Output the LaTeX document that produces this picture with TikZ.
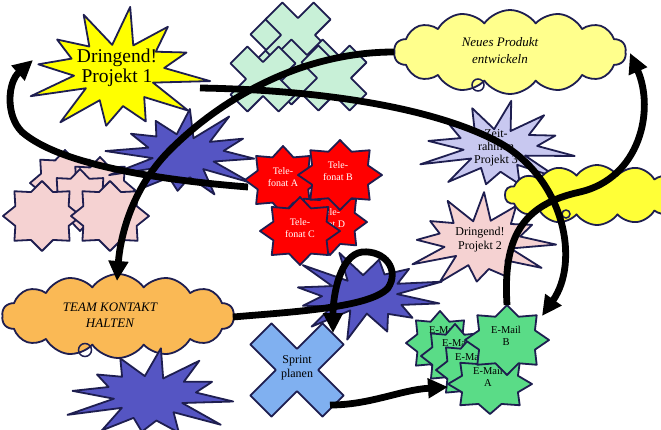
\documentclass[tikz,border=0pt]{standalone}
\usepackage{fontspec}
\setmainfont{Liberation Serif}
\usetikzlibrary{shapes.geometric,shapes.symbols,arrows.meta}
\definecolor{edge}{RGB}{30,30,80}
\definecolor{yel}{RGB}{255,255,0}
\definecolor{mint}{RGB}{200,240,215}
\definecolor{bluev}{RGB}{85,85,195}
\definecolor{pinkl}{RGB}{245,210,210}
\definecolor{redc}{RGB}{255,0,0}
\definecolor{lyel}{RGB}{255,255,140}
\definecolor{lav}{RGB}{200,200,240}
\definecolor{byel}{RGB}{255,255,55}
\definecolor{orng}{RGB}{250,185,85}
\definecolor{sky}{RGB}{128,176,240}
\definecolor{grn}{RGB}{90,220,135}
% burst: style, cx, cy, rx, ry, points, inner ratio, rotation, jitter
\newcommand\burst[9]{%
  \pgfmathtruncatemacro\bnn{2*#6-1}%
  \draw[#1] plot[variable=\t, samples at={0,...,\bnn}]
   ({#2+ifthenelse(mod(\t,2)==0,1,#7)*(1+#9*sin(\t*137.5+#2))*#4*cos(#8+\t*180/#6)},
    {#3+ifthenelse(mod(\t,2)==0,1,#7)*(1+#9*sin(\t*137.5+#2))*#5*sin(#8+\t*180/#6)}) -- cycle;%
}
% cross: style, cx, cy, L, a, rotation
\newcommand\xcross[6]{%
  \draw[#1, shift={(#2,#3)}, rotate=#6] (#5,#4) -- (#5,#5) -- (#4,#5) -- (#4,-#5) -- (#5,-#5) -- (#5,-#4) -- (-#5,-#4) -- (-#5,-#5) -- (-#4,-#5) -- (-#4,#5) -- (-#5,#5) -- (-#5,#4) -- cycle;%
}
\tikzset{
  shp/.style={draw=edge, line width=1.8pt, line join=round},
  arr/.style={line width=6.8pt, draw=black, -{Triangle[length=20pt,width=19pt]}},
  lbl/.style={align=center, inner sep=0pt, text=black},
  wlbl/.style={align=center, inner sep=0pt, text=white, font=\fontsize{10}{11.5}\selectfont},
  glbl/.style={align=center, inner sep=0pt, text=black, font=\fontsize{10.5}{12}\selectfont},
  cloudbox/.style={shp, cloud, cloud puffs=14, cloud puff arc=110, inner sep=0pt},
  doodle/.style={draw=edge, line width=1.5pt},
}
\begin{document}
\begin{tikzpicture}[x=1pt,y=-1pt]
\useasboundingbox (0,0) rectangle (661,429);
\fill[white] (0,0) rectangle (661,429);

% mint crosses
\xcross{shp, fill=mint}{283}{50}{34}{12}{45}
\xcross{shp, fill=mint}{298}{35}{34}{12}{45}
\xcross{shp, fill=mint}{307}{72}{34}{12}{45}
\xcross{shp, fill=mint}{263}{79}{34}{12}{45}
\xcross{shp, fill=mint}{334}{78}{34}{12}{45}

% Dringend Projekt 1
\burst{shp, fill=yel}{117}{72}{85}{59}{12}{0.52}{8}{0.12}
\node[lbl, font=\fontsize{19.5}{20}\selectfont] (p1) at (117,68) {Dringend!\\Projekt 1};

% pink cluster
\burst{shp, fill=pinkl}{65}{183}{35}{33}{8}{0.74}{0}{0}
\burst{shp, fill=pinkl}{100}{190}{35}{33}{8}{0.74}{0}{0}
\burst{shp, fill=pinkl}{80}{200}{33}{31}{8}{0.74}{0}{0}
\burst{shp, fill=pinkl}{42}{216}{39}{35}{8}{0.74}{0}{0}
\burst{shp, fill=pinkl}{110}{216}{39}{35}{8}{0.74}{0}{0}

% blue top star
\burst{shp, fill=bluev}{183}{155}{72}{42}{12}{0.5}{5}{0.15}

% red telefonat stars
\burst{shp, fill=redc}{283}{180}{38}{34}{8}{0.72}{0}{0}
\node[wlbl] (tA) at (283,177) {Tele-\\fonat A};
\burst{shp, fill=redc}{330}{222}{37}{33}{8}{0.72}{0}{0}
\node[wlbl] (tD) at (330,218) {Tele-\\fonat D};
\burst{shp, fill=redc}{340}{175}{42}{35}{8}{0.72}{0}{0}
\node[wlbl] (tB) at (338,171) {Tele-\\fonat B};
\burst{shp, fill=redc}{300}{231}{40}{34}{8}{0.72}{0}{0}
\node[wlbl] (tC) at (300,228) {Tele-\\fonat C};

% Neues Produkt cloud
\node[cloudbox, fill=lyel, aspect=2.75, minimum width=232pt, minimum height=84pt] (np) at (510,52) {};
\node[lbl, font=\itshape\fontsize{13}{17}\selectfont] (npt) at (500,51) {Neues Produkt\\entwickeln};
\draw[doodle] (478,85) circle[radius=6pt];

% Zeitrahmen Projekt 3
\burst{shp, fill=lav}{497}{148}{72}{42}{12}{0.5}{10}{0.14}
\node[lbl, font=\fontsize{12}{13}\selectfont] (p3) at (496,148) {Zeit-\\rahmen\\Projekt 3};

% Dringend Projekt 2
\burst{shp, fill=pinkl}{480}{242}{68}{44}{12}{0.55}{3}{0.14}
\node[lbl, font=\fontsize{12}{14}\selectfont] (p2) at (480,240) {Dringend!\\Projekt 2};

% bright yellow cloud
\node[cloudbox, fill=byel, aspect=3.0, minimum width=184pt, minimum height=60pt] (yc) at (597,195) {};
\draw[doodle] (566,214) circle[radius=4pt];

% blue middle star
\burst{shp, fill=bluev}{365}{295}{75}{40}{12}{0.5}{12}{0.15}

% TEAM KONTAKT cloud
\node[cloudbox, fill=orng, aspect=2.75, minimum width=232pt, minimum height=84pt] (team) at (118,316) {};
\node[lbl, font=\itshape\fontsize{13}{16}\selectfont] (teamt) at (110,315) {TEAM KONTAKT\\HALTEN};
\draw[doodle] (85,350) circle[radius=6.5pt];

% blue bottom star
\burst{shp, fill=bluev}{150}{396}{78}{42}{12}{0.52}{7}{0.15}

% Sprint planen cross
\xcross{shp, fill=sky}{297}{370}{51}{15}{45}
\node[lbl, font=\fontsize{12}{14}\selectfont] (sp) at (297,368) {Sprint\\planen};

% green e-mail stars
\burst{shp, fill=grn}{440}{343}{34}{32}{8}{0.72}{0}{0}
\node[glbl] (e1) at (444,336) {E-Mail\\E};
\burst{shp, fill=grn}{455}{356}{34}{32}{8}{0.72}{0}{0}
\node[glbl] (e2) at (457,349) {E-Mail\\D};
\burst{shp, fill=grn}{470}{370}{34}{32}{8}{0.72}{0}{0}
\node[glbl] (e3) at (470,363) {E-Mail\\C};
\burst{shp, fill=grn}{490}{384}{42}{30}{8}{0.72}{0}{0}
\node[glbl] (eA) at (488,377) {E-Mail\\A};
\burst{shp, fill=grn}{507}{340}{42}{35}{8}{0.72}{0}{0}
\node[glbl] (eB) at (506,336) {E-Mail\\B};

% connector end points
\coordinate (tA-w) at (248,187);
\coordinate (p1-w) at (33,60);
\coordinate (p1-e) at (200,88);
\coordinate (eB-ne) at (542,316);
\coordinate (np-w) at (394,52);
\coordinate (team-n) at (117,281);
\coordinate (eB-n) at (507,305);
\coordinate (np-e) at (630,53);
\coordinate (team-e) at (233,317);
\coordinate (sp-n) at (333,333);
\coordinate (sp-e) at (330,405);
\coordinate (eA-w) at (448,387);

% arrows
\draw[arr] (tA-w) .. controls (160,180) and (60,165) .. (22,132) .. controls (5,115) and (8,82) .. (p1-w);
\draw[arr] (p1-e) .. controls (330,90) and (440,110) .. (500,143) .. controls (565,180) and (580,262) .. (eB-ne);
\draw[arr] (np-w) .. controls (300,52) and (220,100) .. (170,150) .. controls (130,190) and (120,240) .. (team-n);
\draw[arr] (eB-n) .. controls (503,240) and (520,205) .. (580,192) .. controls (640,178) and (655,110) .. (np-e);
\draw[arr] (team-e) .. controls (290,312) and (370,308) .. (388,288) .. controls (400,270) and (385,250) .. (362,252) .. controls (340,255) and (333,295) .. (sp-n);
\draw[arr] (sp-e) .. controls (370,405) and (400,390) .. (eA-w);
\end{tikzpicture}
\end{document}
